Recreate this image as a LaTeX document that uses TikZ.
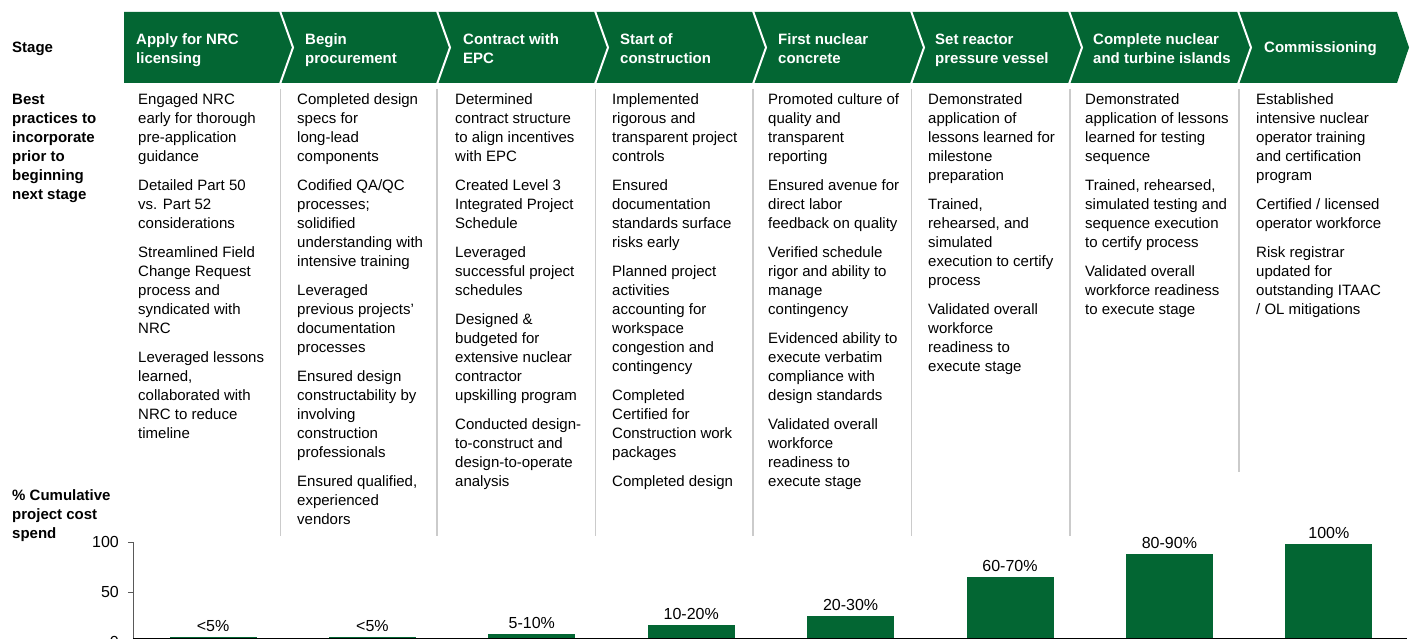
\documentclass[tikz,border=0pt]{standalone}
\usepackage{fontspec}
\setmainfont{Liberation Sans}
\usepackage{xcolor}
\usepackage{tikz}
\usetikzlibrary{positioning}
\definecolor{NGreen}{HTML}{036633}
\definecolor{NRule}{HTML}{CBCBCB}
\definecolor{NAxis}{HTML}{595959}

\begin{document}
\begin{tikzpicture}[x=1pt,y=-1pt,
  every node/.style={inner sep=0pt,font=\fontsize{15}{19}\selectfont},
  rowlabel/.style={anchor=north west,align=left,font=\bfseries\fontsize{15}{19}\selectfont},
  stagehead/.style={anchor=north west,align=left,text=white,font=\bfseries\fontsize{15}{19}\selectfont},
  practice/.style={anchor=north west,align=left},
  colrule/.style={draw=NRule,line width=1.2pt},
  chevsep/.style={draw=white,line width=2pt,miter limit=10},
  costbar/.style={fill=NGreen},
  costlabel/.style={anchor=south,font=\fontsize{16}{19}\selectfont},
  axislabel/.style={anchor=east,font=\fontsize{16}{19}\selectfont}
]
  \useasboundingbox (0,0) rectangle (1415,639);

  % stage band
  \fill[NGreen] (124,12) -- (1397,12) -- (1409,47.5) -- (1397,83) -- (124,83) -- cycle;
  \foreach \x in {280,437,595,753,911,1069,1238}
    \draw[chevsep] (\x,11) -- (\x+13,47.5) -- (\x,84);

  % row labels
  \node[rowlabel] (stagelbl) at (12,42) {Stage};
  \node[rowlabel] (bestlbl) at (12,93.6) {Best\\practices to\\incorporate\\prior to\\beginning\\next stage};
  \node[rowlabel] (costlbl) at (12,489.6) {\% Cumulative\\project cost\\spend};

  % stage headers
  \node[stagehead] (h1) at (136,33.6) {Apply for NRC\\licensing};
  \node[stagehead] (h2) at (305,33.6) {Begin\\procurement};
  \node[stagehead] (h3) at (463,33.6) {Contract with\\EPC};
  \node[stagehead] (h4) at (620,33.6) {Start of\\construction};
  \node[stagehead] (h5) at (778,33.6) {First nuclear\\concrete};
  \node[stagehead] (h6) at (935,33.6) {Set reactor\\pressure vessel};
  \node[stagehead] (h7) at (1093,33.6) {Complete nuclear\\and turbine islands};
  \node[stagehead] (h8) at (1264,41.6) {Commissioning};

  % column rules
  \foreach \x in {280.5,437,595.5,753,911.5,1070}
    \draw[colrule] (\x,89) -- (\x,536);
  \draw[colrule] (1239,89) -- (1239,472);

  % best practices
  \node[practice] (p1) at (138,93.6) {Engaged NRC\\early for thorough\\pre-application\\guidance\\[10pt]
    Detailed Part 50\\vs. Part 52\\considerations\\[10pt]
    Streamlined Field\\Change Request\\process and\\syndicated with\\NRC\\[10pt]
    Leveraged lessons\\learned,\\collaborated with\\NRC to reduce\\timeline};
  \node[practice] (p2) at (297,93.6) {Completed design\\specs for\\long-lead\\components\\[10pt]
    Codified QA/QC\\processes;\\solidified\\understanding with\\intensive training\\[10pt]
    Leveraged\\previous projects'\\documentation\\processes\\[10pt]
    Ensured design\\constructability by\\involving\\construction\\professionals\\[10pt]
    Ensured qualified,\\experienced\\vendors};
  \node[practice] (p3) at (455,93.6) {Determined\\contract structure\\to align incentives\\with EPC\\[10pt]
    Created Level 3\\Integrated Project\\Schedule\\[10pt]
    Leveraged\\successful project\\schedules\\[10pt]
    Designed \&\\budgeted for\\extensive nuclear\\contractor\\upskilling program\\[10pt]
    Conducted design-\\to-construct and\\design-to-operate\\analysis};
  \node[practice] (p4) at (612,93.6) {Implemented\\rigorous and\\transparent project\\controls\\[10pt]
    Ensured\\documentation\\standards surface\\risks early\\[10pt]
    Planned project\\activities\\accounting for\\workspace\\congestion and\\contingency\\[10pt]
    Completed\\Certified for\\Construction work\\packages\\[10pt]
    Completed design};
  \node[practice] (p5) at (768,93.6) {Promoted culture of\\quality and\\transparent\\reporting\\[10pt]
    Ensured avenue for\\direct labor\\feedback on quality\\[10pt]
    Verified schedule\\rigor and ability to\\manage\\contingency\\[10pt]
    Evidenced ability to\\execute verbatim\\compliance with\\design standards\\[10pt]
    Validated overall\\workforce\\readiness to\\execute stage};
  \node[practice] (p6) at (928,93.6) {Demonstrated\\application of\\lessons learned for\\milestone\\preparation\\[10pt]
    Trained,\\rehearsed, and\\simulated\\execution to certify\\process\\[10pt]
    Validated overall\\workforce\\readiness to\\execute stage};
  \node[practice] (p7) at (1085,93.6) {Demonstrated\\application of lessons\\learned for testing\\sequence\\[10pt]
    Trained, rehearsed,\\simulated testing and\\sequence execution\\to certify process\\[10pt]
    Validated overall\\workforce readiness\\to execute stage};
  \node[practice] (p8) at (1256,93.6) {Established\\intensive nuclear\\operator training\\and certification\\program\\[10pt]
    Certified / licensed\\operator workforce\\[10pt]
    Risk registrar\\updated for\\outstanding ITAAC\\/ OL mitigations};

  % cost chart
  \foreach \v/\lab [count=\i] in {5/{<5\%},5/{<5\%},8/{5-10\%},17/{10-20\%},26/{20-30\%},65/{60-70\%},88/{80-90\%},98/{100\%}}{
    \pgfmathsetmacro\cx{213+159.4*(\i-1)}
    \pgfmathsetmacro\ytop{642-\v}
    \fill[costbar] (\cx-43.5,638) rectangle (\cx+43.5,\ytop);
    \node[costlabel] (cost\i) at (\cx,\ytop-5) {\lab};
  }
  \draw[NAxis,line width=0.9pt] (128,542) -- (133,542) (128,592) -- (133,592) (133,542) -- (133,638);
  \draw[line width=1pt] (133,638) -- (1407,638);
  \node[axislabel] (y100) at (119,542) {100};
  \node[axislabel] (y50) at (119,592) {50};
  \node[axislabel] (y0) at (119,641.5) {0};
\end{tikzpicture}
\end{document}
